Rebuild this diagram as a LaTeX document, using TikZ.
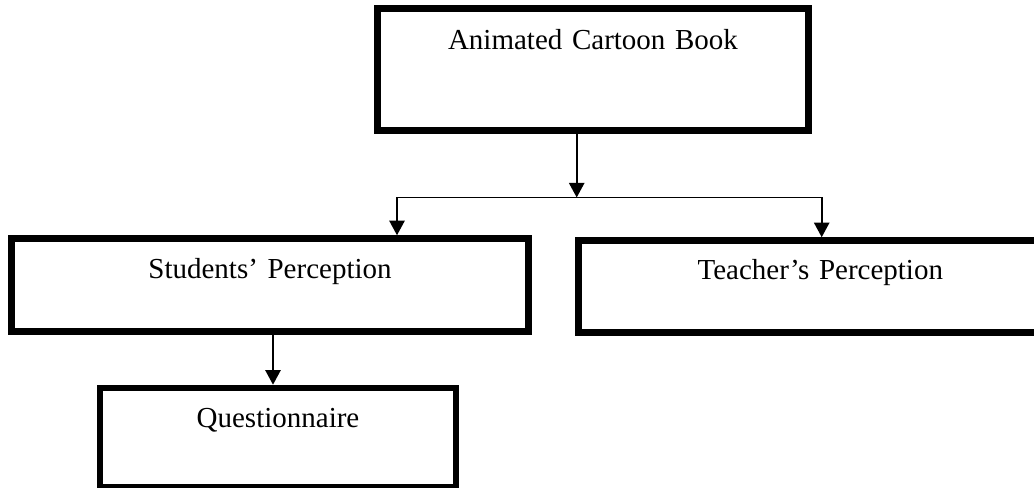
\documentclass[tikz,border=0pt]{standalone}
\usepackage{fontspec}
\setmainfont{Liberation Serif}
\usetikzlibrary{arrows.meta}

\begin{document}
\begin{tikzpicture}[x=0.75pt, y=-0.75pt, >={Triangle[length=11pt, width=11.5pt]},
  font=\fontsize{21.75}{26}\selectfont,
  box/.style={draw, line width=4.9pt, inner sep=0pt, align=center},
  link/.style={line width=1.4pt}]
  \useasboundingbox (0,0) rectangle (1034,488);
  \node[box, text width=323.3pt, text height=30.4pt, text depth=61.1pt] (book)     at (593,69.5)    {Animated Cartoon Book};
  \node[box, text width=387.8pt, text height=29.6pt, text depth=40.1pt] (students) at (270,285)     {Students’ Perception};
  \node[box, text width=362.6pt, text height=29.6pt, text depth=39.4pt] (teacher)  at (820.3,286.5) {Teacher’s Perception};
  \node[box, text width=267pt,   text height=30pt,   text depth=44.3pt] (quest)    at (278,437.5)   {Questionnaire};
  \coordinate (split)  at (576.7,197.5);
  \coordinate (splitL) at (397,197.5);
  \coordinate (splitR) at (821.7,197.5);
  \coordinate (stem)   at (273,360);
  \draw[link, ->] (book.south -| split) -- (split);
  \draw[link] (splitL) -- (splitR);
  \draw[link, ->] (splitL) -- (splitL |- students.north);
  \draw[link, ->] (splitR) -- (splitR |- teacher.north);
  \draw[link, ->] (stem |- students.south) -- (stem |- quest.north);
\end{tikzpicture}
\end{document}
